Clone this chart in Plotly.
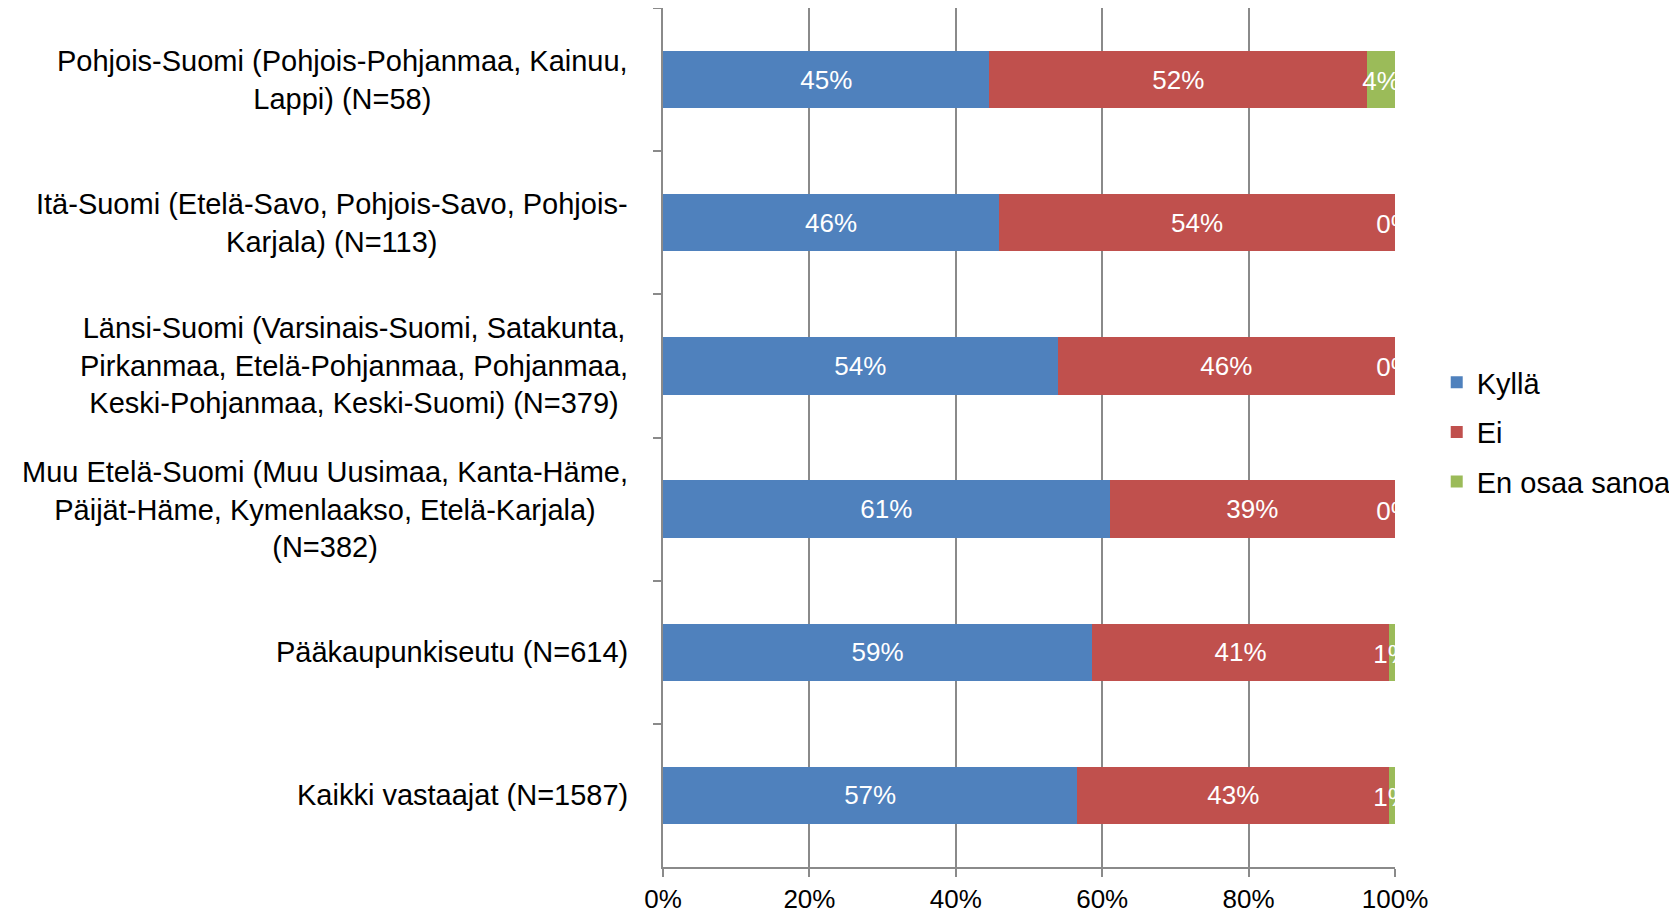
import plotly.graph_objects as go

categories = [
    "Pohjois-Suomi (Pohjois-Pohjanmaa, Kainuu,<br>Lappi) (N=58)",
    "Itä-Suomi (Etelä-Savo, Pohjois-Savo, Pohjois-<br>Karjala) (N=113)",
    "Länsi-Suomi (Varsinais-Suomi, Satakunta,<br>Pirkanmaa, Etelä-Pohjanmaa, Pohjanmaa,<br>Keski-Pohjanmaa, Keski-Suomi) (N=379)",
    "Muu Etelä-Suomi (Muu Uusimaa, Kanta-Häme,<br>Päijät-Häme, Kymenlaakso, Etelä-Karjala)<br>(N=382)",
    "Pääkaupunkiseutu (N=614)",
    "Kaikki vastaajat (N=1587)",
]
kylla = [44.6, 45.9, 53.9, 61.0, 58.6, 56.6]
ei = [51.6, 54.1, 46.1, 39.0, 40.6, 42.6]
en_osaa = [3.8, 0.0, 0.0, 0.0, 0.8, 0.8]
series_names = ["Kyllä", "Ei", "En osaa sanoa"]
colors = ["#4F81BD", "#C0504D", "#9BBB59"]
tick_vals = [0, 20, 40, 60, 80, 100]
tick_text = ["0%", "20%", "40%", "60%", "80%", "100%"]

FONT = "Liberation Sans, Arial, sans-serif"
GRID = "#8a8a8a"

fig = go.Figure()
for name, vals, col in zip(series_names, [kylla, ei, en_osaa], colors):
    is_last = name == series_names[-1]
    fig.add_trace(go.Bar(
        y=categories, x=vals, name=name, orientation="h",
        legendgroup=name,
        marker=dict(color=col, line=dict(width=0)),
        text=None if is_last else [f"{v:.0f}%" for v in vals],
        textposition="inside", insidetextanchor="middle",
        constraintext="none",
        textfont=dict(color="white", size=26, family=FONT),
        hoverinfo="x+y+name",
    ))

# labels for the last (thin) segment, centred on the segment and clipped by the axes
green_centers = [k + e + g / 2 for k, e, g in zip(kylla, ei, en_osaa)]
fig.add_trace(go.Scatter(
    x=green_centers, y=categories, yaxis="y2", mode="text",
    text=[f"{v:.0f}%" for v in en_osaa],
    textposition="middle center",
    textfont=dict(color="white", size=26, family=FONT),
    showlegend=False, cliponaxis=True, hoverinfo="skip",
))

for c in categories:
    fig.add_annotation(
        x=0, xref="paper", y=c, yref="y", text=c, showarrow=False,
        xanchor="right", yanchor="middle", align="center", xshift=-33,
        font=dict(size=29, color="black", family=FONT),
    )

n = len(categories)
fig.update_layout(
    width=1677, height=913,
    barmode="stack", bargap=0.6,
    plot_bgcolor="white", paper_bgcolor="white",
    font=dict(family=FONT, size=26, color="black"),
    margin=dict(l=655, r=290, t=0, b=54),
    legend=dict(
        x=1.057, y=0.506, xanchor="left", yanchor="middle",
        traceorder="grouped", font=dict(size=29, family=FONT, color="black"),
        itemwidth=30, tracegroupgap=9, bgcolor="rgba(0,0,0,0)",
    ),
    showlegend=True,
    yaxis2=dict(
        overlaying="y", visible=False, categoryorder="array",
        categoryarray=categories, range=[n - 0.5 - 0.028, -0.5 - 0.028],
        fixedrange=True,
    ),
)
fig.update_xaxes(
    range=[0, 100], tickvals=tick_vals, ticktext=tick_text,
    showgrid=True, gridcolor=GRID, gridwidth=1.5,
    showline=True, linecolor=GRID, linewidth=2,
    ticks="outside", ticklen=8, tickcolor=GRID, tickwidth=2,
    tickfont=dict(size=26, color="black", family=FONT),
    zeroline=False, fixedrange=True,
)
fig.update_yaxes(
    selector=dict(overlaying=None),
    categoryorder="array", categoryarray=categories, autorange="reversed",
    showticklabels=False, showgrid=False,
    showline=True, linecolor=GRID, linewidth=2,
    ticks="outside", ticklen=8, tickcolor=GRID, tickwidth=2,
    tickson="boundaries", zeroline=False, fixedrange=True,
)
fig.layout.yaxis2.visible = False
fig.layout.yaxis2.showline = False
fig.layout.yaxis2.ticks = ""

fig.write_html("out.html")
